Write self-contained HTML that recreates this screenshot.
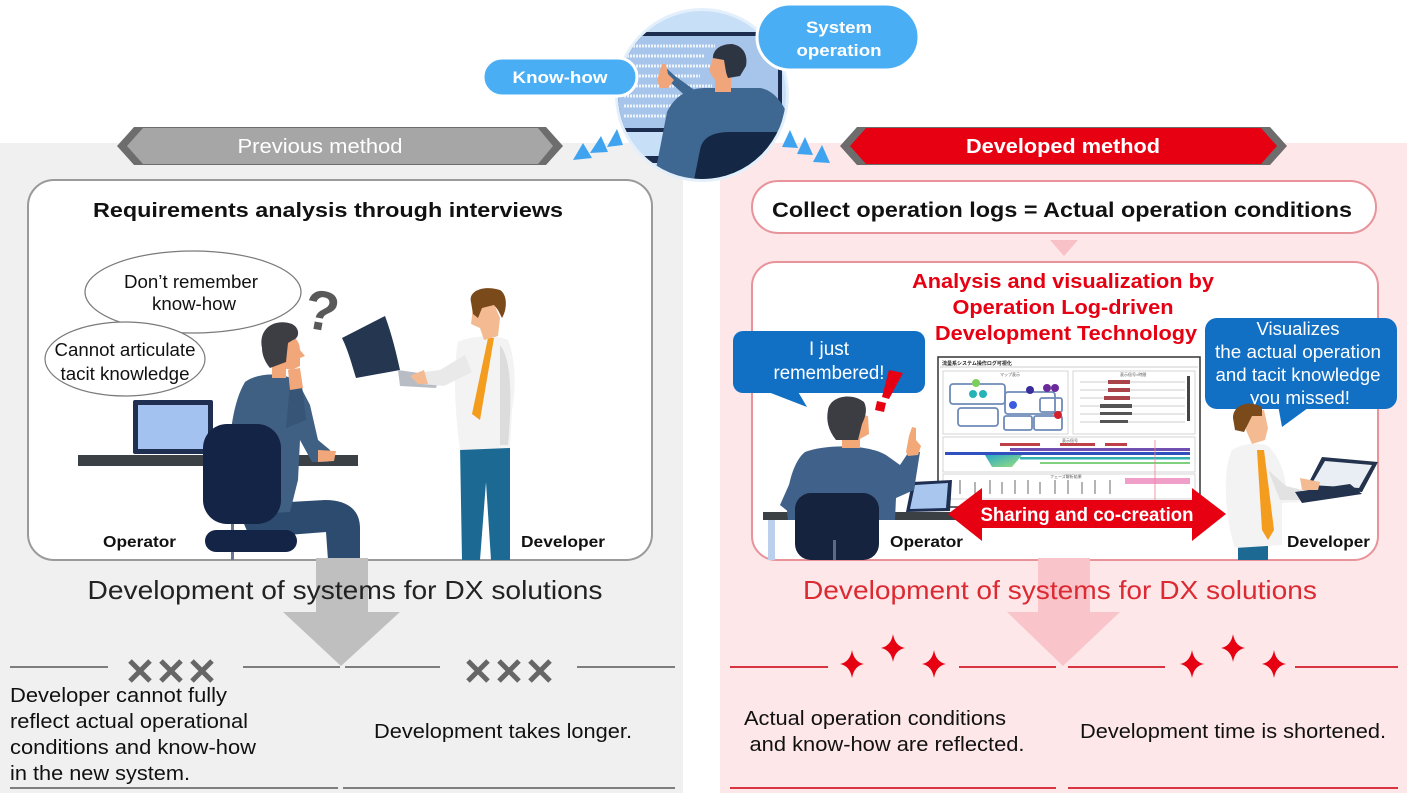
<!DOCTYPE html>
<html><head><meta charset="utf-8">
<style>
html,body{margin:0;padding:0;background:#fff;}
svg{display:block;}
text{font-family:"Liberation Sans","Noto Sans CJK JP",sans-serif;}
</style></head><body>
<svg width="1407" height="793" viewBox="0 0 1407 793" xmlns="http://www.w3.org/2000/svg">
<defs>
<clipPath id="cc"><circle cx="702" cy="95" r="84"/></clipPath>
<linearGradient id="wg" x1="0" y1="0" x2="1" y2="1"><stop offset="0" stop-color="#2aa8c8"/><stop offset="1" stop-color="#9be07a"/></linearGradient>
</defs>
<rect width="1407" height="793" fill="#fff"/>
<!-- panels -->
<rect x="0" y="143" width="683" height="650" fill="#f0f0f0"/>
<rect x="720" y="143" width="687" height="650" fill="#fde7e9"/>

<!-- banners -->
<polygon points="117,146 134,127 546,127 563,146 546,165 134,165" fill="#6d6d6d"/>
<polygon points="127,146 143,128 538,128 553,146 538,164 143,164" fill="#a6a6a6"/>
<text x="320" y="153" font-size="20" fill="#fff" text-anchor="middle" textLength="165" lengthAdjust="spacingAndGlyphs">Previous method</text>
<polygon points="840,146 857,127 1270,127 1287,146 1270,165 857,165" fill="#6d6d6d"/>
<polygon points="850,146 866,128 1261,128 1277,146 1261,164 866,164" fill="#e60012"/>
<text x="1063" y="153" font-size="20" font-weight="bold" fill="#fff" text-anchor="middle" textLength="194" lengthAdjust="spacingAndGlyphs">Developed method</text>

<!-- top circle -->
<circle cx="702" cy="95" r="87" fill="#e3f0fb"/>
<g clip-path="url(#cc)">
<rect x="600" y="0" width="210" height="200" fill="#c7e0f7"/>
<rect x="618" y="32" width="164" height="100" fill="#1d2d4f"/>
<rect x="618" y="36" width="160" height="92" fill="#a7c4ea"/>
<g stroke="#eef4fc" stroke-width="3" stroke-dasharray="2 1">
<line x1="624" y1="46" x2="715" y2="46"/><line x1="624" y1="56" x2="705" y2="56"/>
<line x1="624" y1="66" x2="720" y2="66"/><line x1="624" y1="76" x2="700" y2="76"/>
<line x1="624" y1="86" x2="712" y2="86"/><line x1="624" y1="96" x2="706" y2="96"/>
<line x1="624" y1="106" x2="690" y2="106"/><line x1="624" y1="116" x2="700" y2="116"/>
</g>
<rect x="600" y="156" width="100" height="7" fill="#1d2d4f"/>
<path d="M667,112 C675,95 690,88 705,88 L760,88 C772,90 782,100 790,120 L800,200 L650,200 Z" fill="#3e6791"/>
<path d="M690,100 L670,82 L660,70 L664,66 L675,76 L700,94 Z" fill="#3e6791"/>
<path d="M657,80 L662,64 L666,64 L668,74 L674,80 L668,88 L660,88 Z" fill="#f0a57a"/>
<rect x="715" y="72" width="16" height="20" fill="#f0a57a"/>
<path d="M713,60 C712,50 720,44 732,44 C744,46 748,56 746,66 L740,76 L728,78 L722,62 Z" fill="#2e3542"/>
<path d="M713,58 L724,60 L727,78 L718,84 L712,76 L709,70 Z" fill="#f0a57a"/>
<path d="M700,150 C702,138 712,132 730,132 L780,132 C792,134 798,145 800,160 L800,200 L690,200 Z" fill="#142744"/>
</g>
<!-- blue triangles -->
<g fill="#3fa3ef">
<polygon points="583,143 573,160 592,158"/><polygon points="601,136 590,153 608,152"/><polygon points="617,129 607,147 623,145"/>
<polygon points="790,130 782,147 798,148"/><polygon points="805,137 797,154 813,155"/><polygon points="822,145 813,162 830,163"/>
</g>
<!-- top bubbles -->
<rect x="757" y="4" width="162" height="66" rx="33" fill="#4aaef4" stroke="#fff" stroke-width="3"/>
<text x="839" y="33" font-size="17" font-weight="bold" fill="#fff" text-anchor="middle" textLength="66" lengthAdjust="spacingAndGlyphs">System</text>
<text x="839" y="56" font-size="17" font-weight="bold" fill="#fff" text-anchor="middle" textLength="85" lengthAdjust="spacingAndGlyphs">operation</text>
<rect x="483" y="58" width="154" height="38" rx="19" fill="#4aaef4" stroke="#fff" stroke-width="3"/>
<text x="560" y="83" font-size="17" font-weight="bold" fill="#fff" text-anchor="middle" textLength="95" lengthAdjust="spacingAndGlyphs">Know-how</text>

<!-- LEFT BOX -->
<rect x="28" y="180" width="624" height="380" rx="26" fill="#fff" stroke="#9a9a9a" stroke-width="2"/>
<text x="328" y="217" font-size="20" font-weight="bold" fill="#111" text-anchor="middle" textLength="470" lengthAdjust="spacingAndGlyphs">Requirements analysis through interviews</text>
<ellipse cx="193" cy="292" rx="108" ry="41" fill="#fff" stroke="#7a7a7a" stroke-width="1.2"/>
<ellipse cx="125" cy="359" rx="80" ry="37" fill="#fff" stroke="#7a7a7a" stroke-width="1.2"/>
<text x="191" y="288" font-size="18" fill="#111" text-anchor="middle" textLength="134" lengthAdjust="spacingAndGlyphs">Don’t remember</text>
<text x="194" y="310" font-size="18" fill="#111" text-anchor="middle" textLength="84" lengthAdjust="spacingAndGlyphs">know-how</text>
<text x="125" y="356" font-size="18" fill="#111" text-anchor="middle" textLength="141" lengthAdjust="spacingAndGlyphs">Cannot articulate</text>
<text x="125" y="380" font-size="18" fill="#111" text-anchor="middle" textLength="129" lengthAdjust="spacingAndGlyphs">tacit knowledge</text>
<text x="322" y="330" font-size="56" font-weight="bold" fill="#595959" text-anchor="middle" transform="rotate(10 322 310)">?</text>
<!-- desk & laptop -->
<rect x="78" y="455" width="280" height="11" fill="#3b4045"/>
<rect x="133" y="400" width="80" height="54" rx="2" fill="#1e2f52"/>
<rect x="138" y="405" width="70" height="44" fill="#a4c2ef"/>
<!-- operator left -->
<path d="M236,505 L325,500 C350,500 360,512 360,528 L360,560 L328,560 L326,532 L250,538 Z" fill="#2c4b6e"/>
<path d="M245,382 C258,372 285,372 298,382 L310,405 L318,440 L330,450 L328,462 L312,462 L300,440 L298,480 L290,512 L232,515 C226,470 228,410 245,382 Z" fill="#3f5f83"/>
<path d="M286,428 L306,420 L302,386 L290,384 Z" fill="#365577"/>
<path d="M318,450 L336,451 L334,461 L318,462 Z" fill="#f2a77a"/>
<rect x="272" y="362" width="14" height="16" fill="#f2a77a"/>
<path d="M283,334 C295,334 300,342 300,350 L305,356 L300,358 L300,366 L292,370 L282,368 Z" fill="#f2a77a"/>
<path d="M288,370 L300,368 L303,388 L290,390 Z" fill="#f2a77a"/>
<path d="M262,348 C258,328 275,318 292,324 C300,328 300,338 293,340 L288,343 L286,362 L270,368 C265,362 262,355 262,348 Z" fill="#3c3e44"/>
<rect x="231" y="505" width="3" height="55" fill="#6a7590"/>
<rect x="203" y="424" width="78" height="100" rx="24" fill="#142446"/>
<rect x="205" y="530" width="92" height="22" rx="11" fill="#142446"/>
<!-- developer left -->
<path d="M342,338 L385,316 C392,335 396,352 400,370 L356,378 C352,365 348,350 342,338 Z" fill="#243650"/>
<path d="M398,370 L440,376 L436,388 L400,386 Z" fill="#b8bcc4"/>
<path d="M460,445 L510,445 L510,560 L491,560 L486,482 L480,560 L462,560 Z" fill="#1c6a93"/>
<path d="M458,342 C470,336 495,334 508,340 C516,360 516,390 512,410 L510,448 L460,450 C456,420 452,372 458,342 Z" fill="#f3f3f3"/>
<path d="M500,345 C512,360 512,400 508,445 L500,445 Z" fill="#dcdcdc"/>
<path d="M465,355 L440,370 L424,372 L422,384 L444,386 L472,372 Z" fill="#e9e9e9"/>
<path d="M424,370 L410,376 L418,384 L428,384 Z" fill="#f4ba92"/>
<path d="M488,338 L494,338 L480,420 L472,414 Z" fill="#f39c1e"/>
<path d="M473,304 L494,304 L500,318 L498,336 L484,340 L480,328 L471,324 L472,316 Z" fill="#f4ba92"/>
<path d="M471,302 C468,290 485,285 500,290 C508,295 507,310 502,318 L498,310 L494,305 L482,308 L478,318 L473,314 Z" fill="#7b4a1a"/>
<text x="103" y="547" font-size="16" font-weight="bold" fill="#111" textLength="73" lengthAdjust="spacingAndGlyphs">Operator</text>
<text x="521" y="547" font-size="16" font-weight="bold" fill="#111" textLength="84" lengthAdjust="spacingAndGlyphs">Developer</text>

<!-- RIGHT -->
<rect x="752" y="181" width="624" height="52" rx="26" fill="#fff" stroke="#e8939a" stroke-width="2"/>
<text x="1062" y="217" font-size="21" font-weight="bold" fill="#111" text-anchor="middle" textLength="580" lengthAdjust="spacingAndGlyphs">Collect operation logs = Actual operation conditions</text>
<polygon points="1050,240 1078,240 1064,256" fill="#f7c1c7"/>
<rect x="752" y="262" width="626" height="298" rx="24" fill="#fff" stroke="#e8939a" stroke-width="2"/>
<g font-size="20" font-weight="bold" fill="#e60012" text-anchor="middle">
<text x="1063" y="288" textLength="302" lengthAdjust="spacingAndGlyphs">Analysis and visualization by</text>
<text x="1063" y="314" textLength="221" lengthAdjust="spacingAndGlyphs">Operation Log-driven</text>
<text x="1066" y="340" textLength="262" lengthAdjust="spacingAndGlyphs">Development Technology</text>
</g>
<!-- dashboard -->
<rect x="938" y="357" width="262" height="150" fill="#fff" stroke="#333" stroke-width="1.5"/>
<text x="942" y="365" font-size="5" font-weight="bold" fill="#222">流量系システム操作ログ可視化</text>
<line x1="940" y1="367" x2="1198" y2="367" stroke="#999" stroke-width="0.6"/>
<rect x="943" y="371" width="125" height="63" fill="none" stroke="#ccc" stroke-width="0.8"/>
<rect x="1073" y="371" width="122" height="63" fill="none" stroke="#ccc" stroke-width="0.8"/>
<rect x="943" y="437" width="252" height="35" fill="none" stroke="#ccc" stroke-width="0.8"/>
<rect x="943" y="474" width="252" height="25" fill="none" stroke="#ccc" stroke-width="0.8"/>
<text x="1000" y="376" font-size="4" fill="#555">マップ表示</text>
<text x="1120" y="376" font-size="4" fill="#555">表示信号×時間</text>
<text x="1062" y="442" font-size="4" fill="#555">表示信号</text>
<text x="1050" y="478" font-size="4" fill="#555">フェーズ解析結果</text>
<g fill="none" stroke="#6f8bb8" stroke-width="1.8">
<rect x="950" y="384" width="55" height="20" rx="3"/><rect x="958" y="408" width="40" height="18" rx="3"/>
<rect x="1005" y="392" width="50" height="22" rx="3"/><rect x="1004" y="416" width="28" height="14" rx="2"/>
<rect x="1034" y="416" width="28" height="14" rx="2"/><rect x="1040" y="398" width="22" height="14" rx="2"/>
</g>
<circle cx="976" cy="383" r="4" fill="#7ccf5a"/><circle cx="973" cy="394" r="4" fill="#25b3b8"/><circle cx="983" cy="394" r="4" fill="#25b3b8"/>
<circle cx="1013" cy="405" r="4" fill="#3a5de0"/><circle cx="1030" cy="390" r="4" fill="#3b2c9c"/><circle cx="1047" cy="388" r="4" fill="#6a2a9c"/>
<circle cx="1055" cy="388" r="4" fill="#6a2a9c"/><circle cx="1058" cy="415" r="4" fill="#d4202a"/>
<g stroke="#bbb" stroke-width="0.8"><line x1="1080" y1="382" x2="1185" y2="382"/><line x1="1080" y1="390" x2="1185" y2="390"/><line x1="1080" y1="398" x2="1185" y2="398"/><line x1="1080" y1="406" x2="1185" y2="406"/><line x1="1080" y1="414" x2="1185" y2="414"/><line x1="1080" y1="422" x2="1185" y2="422"/></g>
<g fill="#a8444a"><rect x="1108" y="380" width="22" height="4"/><rect x="1108" y="388" width="22" height="4"/><rect x="1104" y="396" width="26" height="4"/></g>
<g fill="#555"><rect x="1100" y="404" width="32" height="4"/><rect x="1100" y="412" width="32" height="3"/><rect x="1100" y="420" width="28" height="3"/></g>
<rect x="1187" y="376" width="3" height="45" fill="#444"/>
<g><rect x="1000" y="443" width="40" height="3" fill="#c0404a"/><rect x="1060" y="443" width="35" height="3" fill="#c0404a"/><rect x="1105" y="443" width="22" height="3" fill="#c0404a"/>
<rect x="1010" y="448" width="180" height="3" fill="#7050b0"/><rect x="945" y="452" width="245" height="3" fill="#3050c0"/>
<rect x="1020" y="457" width="170" height="2.5" fill="#30b0b0"/><rect x="1040" y="462" width="150" height="2" fill="#80d080"/>
<polygon points="985,455 1022,455 1012,467 992,467" fill="url(#wg)"/></g>
<g stroke="#444" stroke-width="0.8"><line x1="960" y1="480" x2="960" y2="494"/><line x1="975" y1="482" x2="975" y2="494"/><line x1="990" y1="480" x2="990" y2="494"/><line x1="1002" y1="482" x2="1002" y2="494"/><line x1="1015" y1="480" x2="1015" y2="494"/><line x1="1028" y1="480" x2="1028" y2="494"/><line x1="1040" y1="482" x2="1040" y2="494"/><line x1="1055" y1="480" x2="1055" y2="494"/><line x1="1068" y1="480" x2="1068" y2="494"/><line x1="1082" y1="482" x2="1082" y2="494"/><line x1="1095" y1="480" x2="1095" y2="494"/><line x1="1110" y1="480" x2="1110" y2="494"/></g>
<rect x="1125" y="478" width="65" height="6" fill="#f0a0c8"/>
<line x1="1155" y1="440" x2="1155" y2="500" stroke="#f08090" stroke-width="0.8"/>

<!-- callouts -->
<rect x="733" y="331" width="192" height="62" rx="10" fill="#1170c4"/>
<polygon points="763,390 797,390 807,407" fill="#1170c4"/>
<text x="829" y="355" font-size="19" fill="#fff" text-anchor="middle" textLength="40" lengthAdjust="spacingAndGlyphs">I just</text>
<text x="829" y="379" font-size="19" fill="#fff" text-anchor="middle" textLength="111" lengthAdjust="spacingAndGlyphs">remembered!</text>
<rect x="1205" y="318" width="192" height="91" rx="12" fill="#1170c4"/>
<polygon points="1278,405 1312,405 1282,427" fill="#1170c4"/>
<g font-size="18" fill="#fff" text-anchor="middle">
<text x="1298" y="335" textLength="83" lengthAdjust="spacingAndGlyphs">Visualizes</text>
<text x="1298" y="358" textLength="166" lengthAdjust="spacingAndGlyphs">the actual operation</text>
<text x="1298" y="381" textLength="165" lengthAdjust="spacingAndGlyphs">and tacit knowledge</text>
<text x="1300" y="404" textLength="100" lengthAdjust="spacingAndGlyphs">you missed!</text>
</g>
<!-- exclamation -->
<polygon points="889,370 903,373 889,399 882,397" fill="#e60012"/>
<polygon points="877,401 886,403 884,412 875,410" fill="#e60012"/>
<!-- right operator -->
<rect x="763" y="512" width="195" height="8" fill="#3b4045"/>
<rect x="768" y="520" width="7" height="40" fill="#bcd0ee"/>
<polygon points="912,482 952,480 950,511 906,512" fill="#1e2f52"/>
<polygon points="915,485 948,483 946,508 910,509" fill="#a9c6ef"/>
<path d="M805,452 C825,444 868,444 886,455 L900,465 L910,450 L920,452 L914,490 L896,498 L895,520 L788,520 C784,495 792,462 805,452 Z" fill="#40628a"/>
<path d="M800,460 L780,505 L790,513 L812,478 Z" fill="#40628a"/>
<path d="M906,452 L909,436 L912,427 L916,428 L916,440 L921,446 L918,455 L908,456 Z" fill="#f3a878"/>
<rect x="842" y="430" width="18" height="18" fill="#f3a878"/>
<path d="M858,414 L868,416 L869,434 L858,440 Z" fill="#f3a878"/>
<path d="M828,410 C830,396 852,392 864,402 C868,410 865,418 862,424 L858,440 L836,440 C828,430 826,420 828,410 Z" fill="#3b3d42"/>
<rect x="795" y="493" width="84" height="67" rx="16" fill="#15233f"/>
<rect x="833" y="540" width="3" height="20" fill="#5a6a88"/>
<!-- right developer -->
<rect x="1238" y="546" width="30" height="14" fill="#1c6a93"/>
<path d="M1232,450 C1240,444 1258,442 1268,446 C1278,455 1284,470 1286,486 L1302,490 L1300,502 L1282,503 L1282,545 L1235,548 C1225,520 1222,470 1232,450 Z" fill="#f3f3f3"/>
<path d="M1268,470 L1286,486 L1302,490 L1300,500 L1280,500 Z" fill="#e2e2e2"/>
<path d="M1257,450 L1264,450 L1274,530 L1268,540 L1262,530 Z" fill="#f39c1e"/>
<path d="M1248,412 L1264,410 L1268,428 L1265,440 L1252,444 L1246,430 Z" fill="#f4ba92"/>
<path d="M1233,418 C1233,404 1250,400 1262,407 L1262,416 L1252,416 L1244,432 L1235,430 Z" fill="#7b4a1a"/>
<polygon points="1322,457 1378,462 1362,492 1306,488" fill="#23324d"/>
<polygon points="1325,461 1372,465 1359,488 1311,485" fill="#e9eef5"/>
<polygon points="1295,492 1350,484 1362,494 1302,503" fill="#23324d"/>
<path d="M1300,478 L1320,482 L1318,490 L1302,490 Z" fill="#f4ba92"/>
<!-- sharing arrow -->
<polygon points="948,514 982,488 982,500 1192,500 1192,488 1226,514 1192,541 1192,528 982,528 982,541" fill="#e60012"/>
<text x="1087" y="521" font-size="19" font-weight="bold" fill="#fff" text-anchor="middle" textLength="213" lengthAdjust="spacingAndGlyphs">Sharing and co-creation</text>
<text x="890" y="547" font-size="16" font-weight="bold" fill="#111" textLength="73" lengthAdjust="spacingAndGlyphs">Operator</text>
<text x="1287" y="547" font-size="16" font-weight="bold" fill="#111" textLength="83" lengthAdjust="spacingAndGlyphs">Developer</text>

<!-- down arrows -->
<rect x="316" y="558" width="52" height="55" fill="#bfbfbf"/>
<polygon points="283,612 400,612 341,666" fill="#bfbfbf"/>
<rect x="1038" y="558" width="52" height="55" fill="#f9c4ca"/>
<polygon points="1007,612 1120,612 1063,666" fill="#f9c4ca"/>
<text x="345" y="599" font-size="26" fill="#222" text-anchor="middle" textLength="515" lengthAdjust="spacingAndGlyphs">Development of systems for DX solutions</text>
<text x="1060" y="599" font-size="26" fill="#dc2a32" text-anchor="middle" textLength="514" lengthAdjust="spacingAndGlyphs">Development of systems for DX solutions</text>

<!-- left bottom -->
<g stroke="#595959" stroke-width="1.5">
<line x1="10" y1="667" x2="108" y2="667"/><line x1="243" y1="667" x2="340" y2="667"/>
<line x1="345" y1="667" x2="440" y2="667"/><line x1="577" y1="667" x2="675" y2="667"/>
<line x1="10" y1="788" x2="338" y2="788"/><line x1="343" y1="788" x2="675" y2="788"/>
</g>
<g stroke="#666" stroke-width="5">
<path d="M130,661 L150,681 M150,661 L130,681"/><path d="M161,661 L181,681 M181,661 L161,681"/><path d="M192,661 L212,681 M212,661 L192,681"/>
<path d="M468,661 L488,681 M488,661 L468,681"/><path d="M499,661 L519,681 M519,661 L499,681"/><path d="M530,661 L550,681 M550,661 L530,681"/>
</g>
<g font-size="20" fill="#111">
<text x="10" y="702" textLength="217" lengthAdjust="spacingAndGlyphs">Developer cannot fully</text>
<text x="10" y="728" textLength="238" lengthAdjust="spacingAndGlyphs">reflect actual operational</text>
<text x="10" y="754" textLength="246" lengthAdjust="spacingAndGlyphs">conditions and know-how</text>
<text x="10" y="780" textLength="180" lengthAdjust="spacingAndGlyphs">in the new system.</text>
<text x="503" y="738" text-anchor="middle" textLength="258" lengthAdjust="spacingAndGlyphs">Development takes longer.</text>
</g>

<!-- right bottom -->
<g stroke="#d7353f" stroke-width="2">
<line x1="730" y1="667" x2="828" y2="667"/><line x1="959" y1="667" x2="1056" y2="667"/>
<line x1="1068" y1="667" x2="1165" y2="667"/><line x1="1295" y1="667" x2="1398" y2="667"/>
<line x1="730" y1="788" x2="1056" y2="788"/><line x1="1068" y1="788" x2="1398" y2="788"/>
</g>
<g fill="#e60012">
<path d="M0,-14 Q2,-2 12,0 Q2,2 0,14 Q-2,2 -12,0 Q-2,-2 0,-14Z" transform="translate(852,664)"/>
<path d="M0,-14 Q2,-2 12,0 Q2,2 0,14 Q-2,2 -12,0 Q-2,-2 0,-14Z" transform="translate(893,648)"/>
<path d="M0,-14 Q2,-2 12,0 Q2,2 0,14 Q-2,2 -12,0 Q-2,-2 0,-14Z" transform="translate(934,664)"/>
<path d="M0,-14 Q2,-2 12,0 Q2,2 0,14 Q-2,2 -12,0 Q-2,-2 0,-14Z" transform="translate(1192,664)"/>
<path d="M0,-14 Q2,-2 12,0 Q2,2 0,14 Q-2,2 -12,0 Q-2,-2 0,-14Z" transform="translate(1233,648)"/>
<path d="M0,-14 Q2,-2 12,0 Q2,2 0,14 Q-2,2 -12,0 Q-2,-2 0,-14Z" transform="translate(1274,664)"/>
</g>
<g font-size="20" fill="#111" text-anchor="middle">
<text x="875" y="725" textLength="262" lengthAdjust="spacingAndGlyphs">Actual operation conditions</text>
<text x="887" y="751" textLength="275" lengthAdjust="spacingAndGlyphs">and know-how are reflected.</text>
<text x="1233" y="738" textLength="306" lengthAdjust="spacingAndGlyphs">Development time is shortened.</text>
</g>
</svg>
</body></html>
